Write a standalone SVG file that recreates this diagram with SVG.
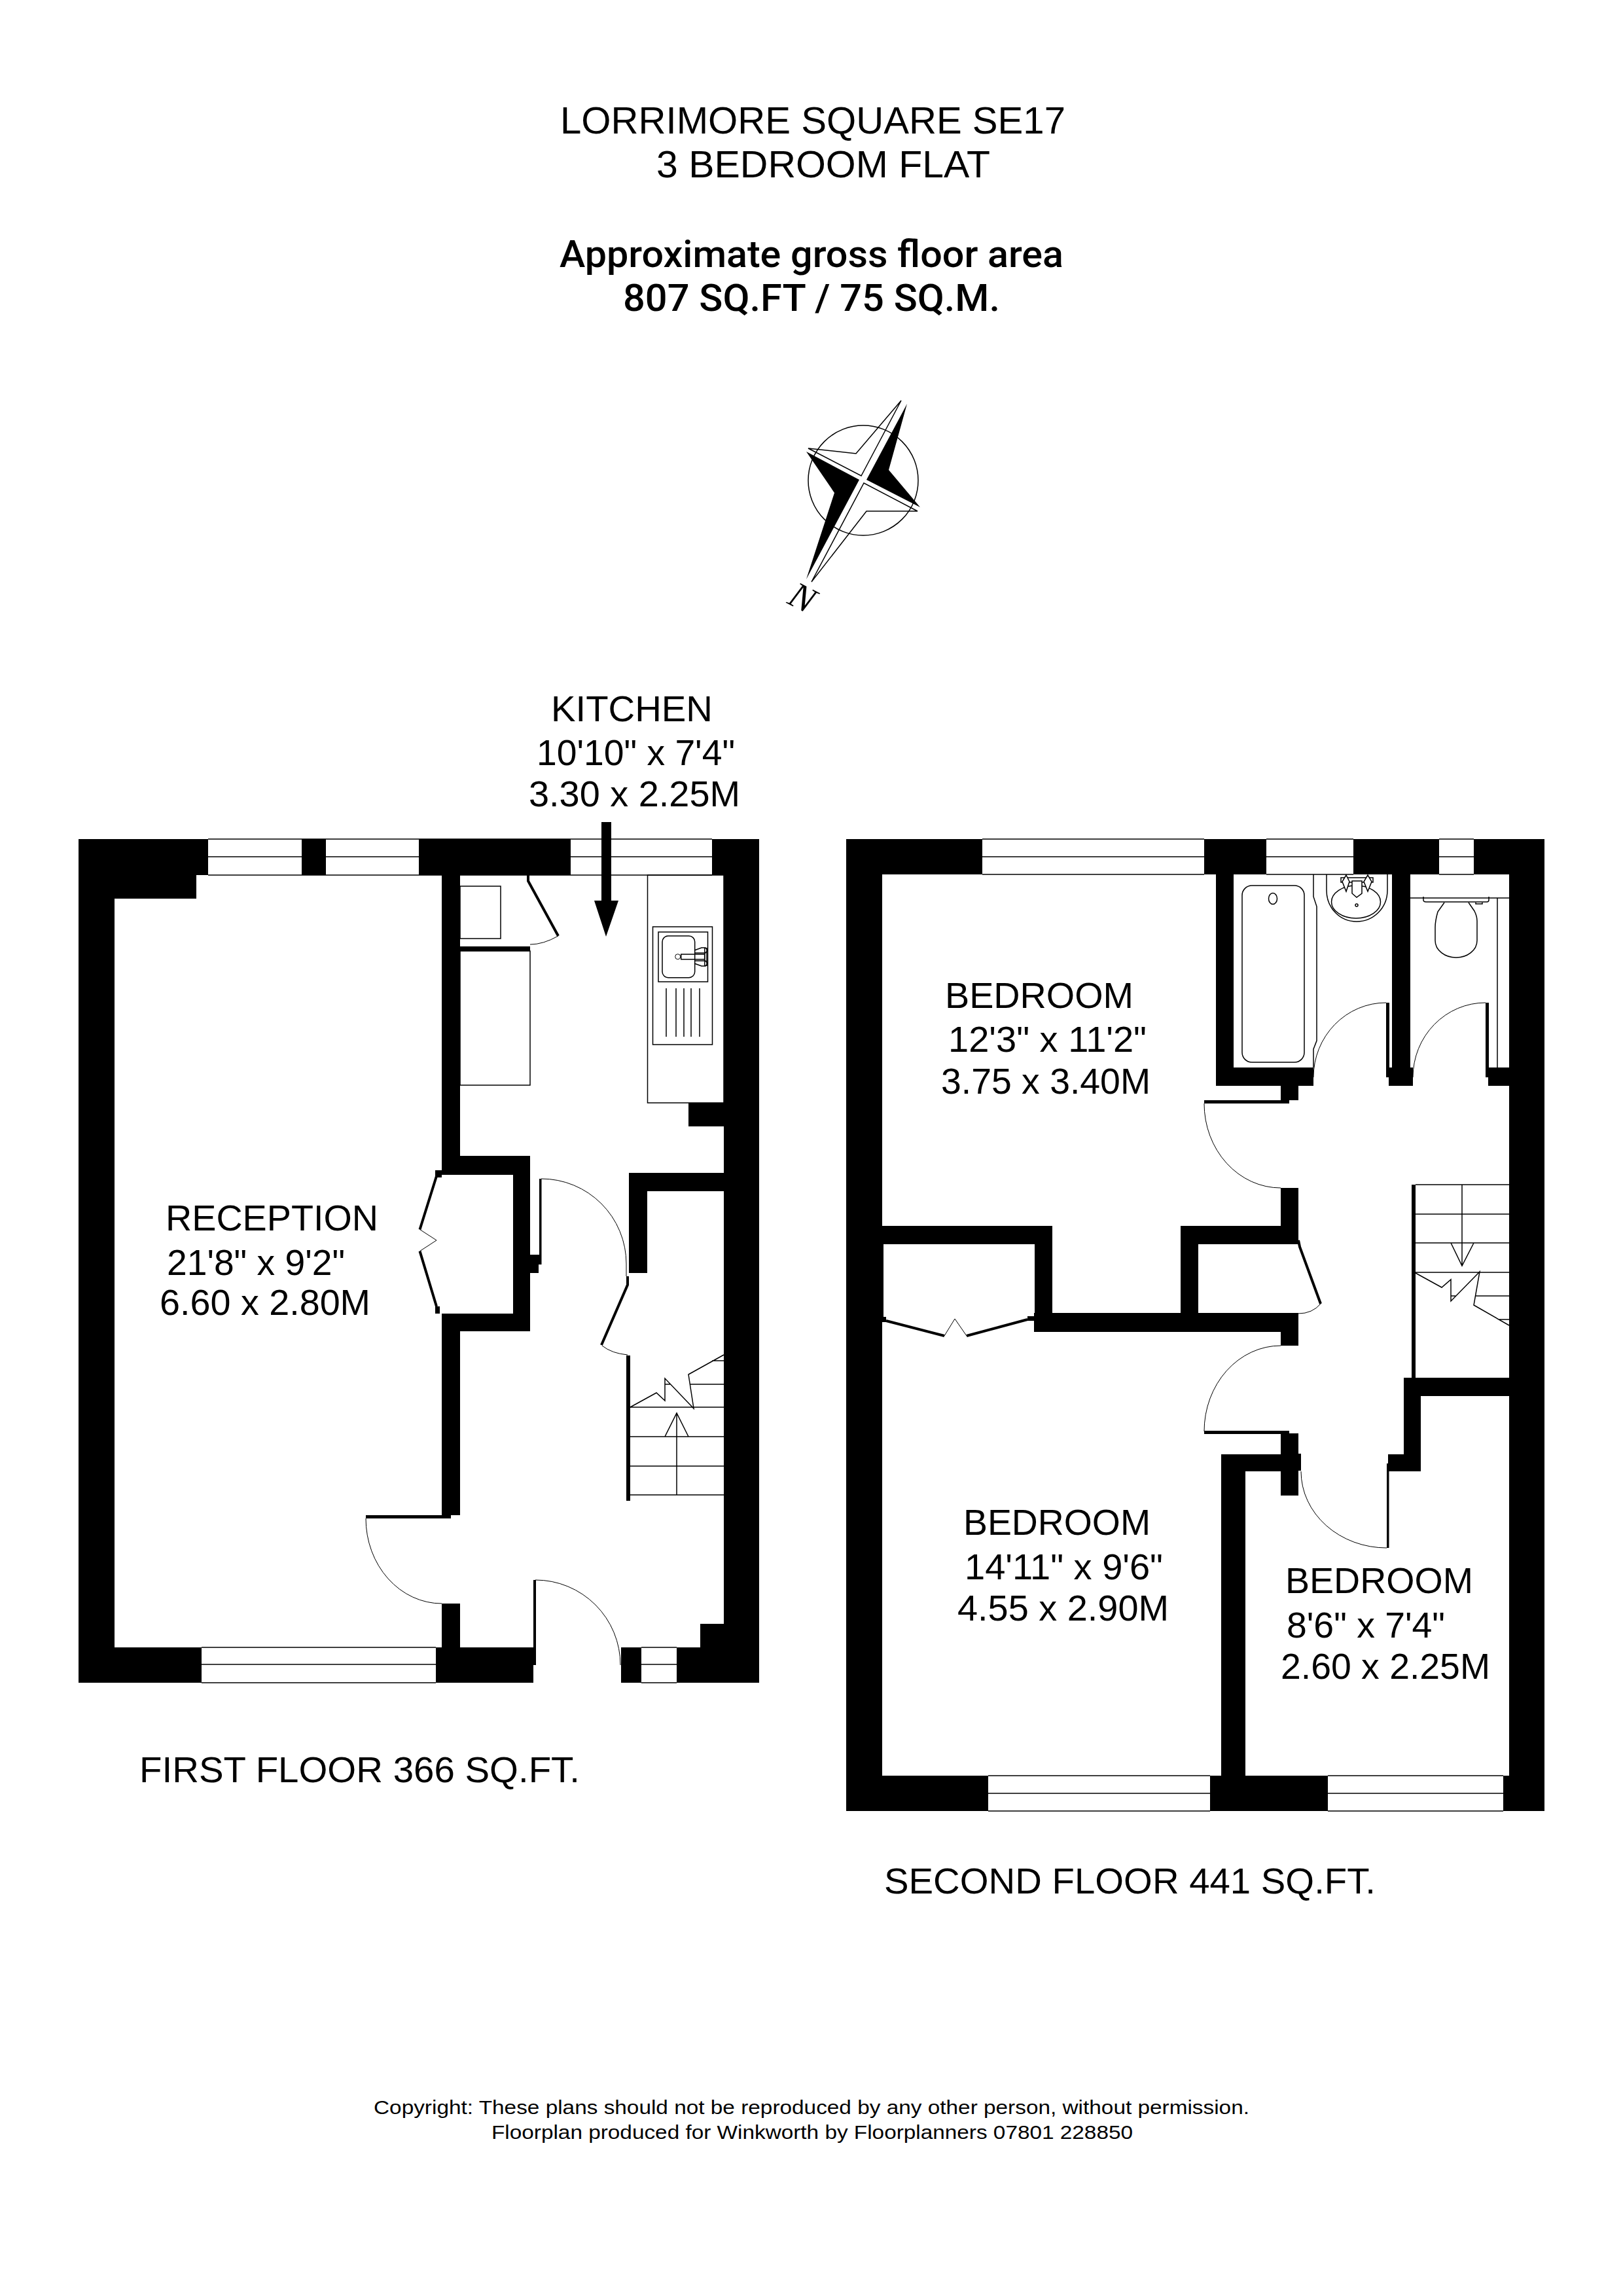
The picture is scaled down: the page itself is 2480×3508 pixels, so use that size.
<svg xmlns="http://www.w3.org/2000/svg" width="2480" height="3508" viewBox="0 0 2480 3508">
<style>
text{font-family:"Liberation Sans",Arial,sans-serif;fill:#000}
.din{font-family:"Roboto","Liberation Sans",sans-serif;font-weight:500}
.t{font-size:58px}.r{font-size:55px}.c{font-size:30px}
.w{fill:#000;stroke:none}
.l{fill:none;stroke:#000;stroke-width:1.5}
.h{fill:none;stroke:#000;stroke-width:1}
.k{fill:none;stroke:#000;stroke-width:4}
.win{fill:#fff;stroke:none}
</style>
<rect width="2480" height="3508" fill="#fff"/>
<g id="title">
<text class="t" x="856" y="204" textLength="772" lengthAdjust="spacingAndGlyphs">LORRIMORE SQUARE SE17</text>
<text class="t" x="1003" y="271" textLength="510" lengthAdjust="spacingAndGlyphs">3 BEDROOM FLAT</text>
<text class="t din" x="855" y="408" textLength="770" lengthAdjust="spacingAndGlyphs">Approximate gross floor area</text>
<text class="t din" x="952" y="475" textLength="576" lengthAdjust="spacingAndGlyphs">807 SQ.FT / 75 SQ.M.</text>
</g>
<g id="compass">
<circle class="l" cx="1319" cy="734" r="84"/>
<path class="l" d="M1377 612L1308 693L1235 685L1316 727Z"/>
<path class="l" d="M1402 781L1324 781L1240 889L1320 738Z"/>
<path class="w" d="M1386 617L1358 718L1406 775L1324 733Z"/>
<path class="w" d="M1232 690L1275 753L1232 885L1313 733Z"/>
<text x="0" y="0" transform="translate(1201 921) rotate(27)" style="font-family:'Liberation Serif',serif;font-style:italic;font-size:56px">N</text>
</g>
<g id="first-floor">
<g id="ff-fixtures">
<path class="l" d="M318 1282H1088M318 1309H461M498 1309H640M872 1309H1088M318 1337H1088"/>
<path class="l" d="M308 2517H666M308 2543H666M308 2571H666M980 2517H1034M980 2543H1034M980 2571H1034"/>
<rect class="l" x="703" y="1354" width="62" height="80"/>
<rect class="l" x="703" y="1453" width="107" height="205"/>
<rect class="l" x="989.5" y="1337" width="116.5" height="348"/>
<rect class="l" x="997.5" y="1416" width="91" height="180" fill="#fff"/>
<rect class="l" x="1006" y="1424" width="75.500" height="76"/>
<rect class="l" x="1012" y="1430" width="49.700" height="63.700" rx="9"/>
<circle class="h" cx="1035.700" cy="1461.700" r="4"/>
<rect class="l" x="1040.700" y="1458" width="36" height="7.700" fill="#fff"/>
<path class="l" d="M1061 1452L1072 1448L1078 1448L1081 1452L1078 1456L1062 1456M1061 1472L1072 1476L1078 1476L1081 1472L1078 1468L1062 1468M1076.700 1448V1476M1080 1448V1476"/>
<path class="l" d="M1018 1510V1584M1033 1510V1584M1045 1510V1584M1056 1510V1584M1069 1510V1584"/>
<path class="k" d="M807 1337V1346L853 1430"/>
<path class="h" d="M853 1430Q830 1443 810 1443"/>
<path class="w" d="M919 1256H934V1376H945L926 1431L908 1376H919Z"/>
<path class="k" d="M667 1797L641.500 1878.500M641.500 1911.600L667 1996"/>
<path class="h" d="M641.500 1878.500L667 1895L641.500 1911.600"/>
<path class="k" d="M959 1950V1963L919 2055"/>
<path class="h" d="M920 2056Q935 2068 959 2070"/>
<path class="h" d="M827 1801A130 130 0 0 1 957 1931V1950"/>
<path class="h" d="M818 2414A130 130 0 0 1 948 2544"/>
<path class="h" d="M559 2320A116 130 0 0 0 675 2450"/>
<path class="l" d="M963 2150H1106M963 2195H1106M963 2240H1106M963 2284H1106M1034 2159V2284M1016 2195L1034 2159L1052 2195"/>
<path class="l" d="M963 2150L1003 2128L1016 2140V2106L1060 2152L1052 2100L1106 2070M1016 2115H1024M1055 2115H1106M1088 2079H1106"/>
</g>
<g id="ff-walls" class="w">
<rect x="120" y="1282" width="198" height="55"/>
<rect x="461" y="1282" width="37" height="55"/>
<rect x="640" y="1282" width="232" height="55"/>
<rect x="1088" y="1282" width="72" height="55"/>
<rect x="120" y="1282" width="55" height="1289"/>
<rect x="120" y="1337" width="180" height="36"/>
<rect x="1106" y="1282" width="54" height="1289"/>
<rect x="120" y="2517" width="188" height="54"/>
<rect x="666" y="2517" width="149" height="54"/>
<rect x="815" y="2414" width="4" height="130"/>
<rect x="949" y="2517" width="31" height="54"/>
<rect x="1034" y="2517" width="126" height="54"/>
<rect x="1070" y="2481" width="36" height="36"/>
<rect x="675" y="1337" width="28" height="458"/>
<rect x="675" y="1766" width="135" height="29"/>
<rect x="665" y="1788" width="10" height="11"/>
<rect x="784" y="1766" width="26" height="268"/>
<rect x="675" y="2007" width="135" height="27"/>
<rect x="665" y="1996" width="7" height="11"/>
<rect x="675" y="2007" width="28" height="308"/>
<rect x="559" y="2315" width="130" height="5"/>
<rect x="675" y="2450" width="28" height="67"/>
<rect x="703" y="1446" width="107" height="7"/>
<rect x="1052" y="1685" width="54" height="36"/>
<rect x="961" y="1792" width="145" height="28"/>
<rect x="961" y="1792" width="28" height="153"/>
<rect x="824" y="1801" width="3.500" height="131"/>
<rect x="810" y="1917" width="17" height="15"/>
<rect x="810" y="1932" width="13" height="13"/>
<rect x="957" y="2071" width="6" height="222"/>
</g>
</g>
<g id="second-floor">
<g id="sf-fixtures">
<path class="l" d="M1501 1282H1840M1501 1309H1840M1501 1336H1840M1935 1282H2068M1935 1309H2068M1935 1336H2068M2199 1282H2252M2199 1309H2252M2199 1336H2252"/>
<path class="l" d="M1510 2713H1849M1510 2740H1849M1510 2767H1849M2029 2713H2297M2029 2740H2297M2029 2767H2297"/>
<rect class="l" x="1898" y="1353" width="95" height="270" rx="15"/>
<ellipse class="l" cx="1945" cy="1373" rx="6.500" ry="8.500"/>
<path class="l" d="M2007 1336V1370L2012 1385V1590L2007 1603V1631"/>
<path class="l" d="M2027 1336V1360C2027 1388 2048 1408 2073 1408C2098 1408 2120 1388 2120 1360V1336"/>
<ellipse class="l" cx="2072" cy="1378" rx="37.500" ry="25"/>
<circle class="l" cx="2073" cy="1383" r="2"/>
<rect class="l" x="2049" y="1341" width="49" height="7" fill="#fff"/>
<path class="l" d="M2057 1337L2051 1347L2057 1362L2062 1347ZM2090 1337L2084 1347L2090 1362L2096 1347Z" style="fill:#fff"/>
<path class="l" d="M2066 1346H2081V1365L2073 1371L2066 1365Z" style="fill:#fff"/>
<path class="l" d="M2155 1372H2306M2288 1372V1631"/>
<path class="l" d="M2175 1370V1375Q2175 1378 2179 1378H2272Q2275 1378 2275 1375V1370"/>
<path class="l" d="M2207 1379L2197 1393C2195 1400 2193 1410 2193 1417V1437C2193 1452 2208 1463 2225 1463C2242 1463 2257 1452 2257 1437V1407C2257 1400 2255 1396 2253 1392L2244 1379"/>
<path class="l" d="M2255 1379V1381H2265V1379"/>
<path class="h" d="M2118 1532A111 114 0 0 0 2007 1646"/>
<path class="h" d="M2270 1532A111 114 0 0 0 2159 1646"/>
<path class="h" d="M1840 1686A117 129 0 0 0 1957 1815"/>
<path class="h" d="M1957 2056A117 131 0 0 0 1840 2187"/>
<path class="h" d="M1988 2248A131 117 0 0 0 2119 2365"/>
<path class="k" d="M1984 1895L1986 1905L2018 1992"/>
<path class="h" d="M2018 1992Q2005 2007 1984 2007"/>
<path class="k" d="M1354 2018L1443 2041M1477 2041L1570 2016"/>
<path class="h" d="M1443 2041L1459 2015L1477 2041"/>
<path class="l" d="M2163 1810H2306M2163 1855H2306M2163 1899H2306M2163 1944H2306M2234 1810V1934M2217 1899L2234 1934L2252 1899"/>
<path class="l" d="M2163 1945L2203 1967L2217 1955V1988L2261 1943L2252 1994L2306 2025M2217 1980H2224M2254 1980H2306M2291 2016H2306"/>
</g>
<g id="sf-walls" class="w">
<rect x="1293" y="1282" width="208" height="54"/>
<rect x="1840" y="1282" width="95" height="54"/>
<rect x="2068" y="1282" width="131" height="54"/>
<rect x="2252" y="1282" width="108" height="54"/>
<rect x="1293" y="1282" width="55" height="1485"/>
<rect x="2306" y="1282" width="54" height="1485"/>
<rect x="1293" y="2713" width="217" height="54"/>
<rect x="1849" y="2713" width="180" height="54"/>
<rect x="2297" y="2713" width="63" height="54"/>
<rect x="1858" y="1336" width="27" height="323"/>
<rect x="1858" y="1631" width="149" height="28"/>
<rect x="1957" y="1659" width="27" height="22"/>
<rect x="1840" y="1681" width="130" height="5"/>
<rect x="2127" y="1336" width="28" height="295"/>
<rect x="2122" y="1631" width="37" height="28"/>
<rect x="2118" y="1532" width="5" height="114"/>
<rect x="2270" y="1532" width="5" height="114"/>
<rect x="2274" y="1631" width="32" height="28"/>
<rect x="1957" y="1815" width="27" height="86"/>
<rect x="1804" y="1873" width="180" height="28"/>
<rect x="1348" y="1873" width="260" height="28"/>
<rect x="1581" y="1873" width="27" height="162"/>
<rect x="1804" y="1873" width="27" height="162"/>
<rect x="1580" y="2006" width="404" height="29"/>
<rect x="1957" y="2006" width="27" height="50"/>
<rect x="1570" y="2011" width="10" height="7"/>
<rect x="1348" y="1901" width="2" height="119"/>
<rect x="1350" y="2012" width="4" height="8"/>
<rect x="1840" y="2186" width="130" height="5"/>
<rect x="1957" y="2190" width="27" height="95"/>
<rect x="1984" y="2221" width="4" height="26"/>
<rect x="1866" y="2222" width="94" height="26"/>
<rect x="1866" y="2222" width="37" height="545"/>
<rect x="2145" y="2105" width="26" height="143"/>
<rect x="2121" y="2222" width="50" height="26"/>
<rect x="2145" y="2105" width="161" height="28"/>
<rect x="2119" y="2236" width="3.500" height="129"/>
<rect x="2157" y="1810" width="6" height="295"/>
</g>
</g>
<g id="labels">
<text class="r" x="253" y="1880" textLength="325" lengthAdjust="spacingAndGlyphs">RECEPTION</text>
<text class="r" x="255" y="1948" textLength="272" lengthAdjust="spacingAndGlyphs">21'8" x 9'2"</text>
<text class="r" x="244" y="2009" textLength="322" lengthAdjust="spacingAndGlyphs">6.60 x 2.80M</text>
<text class="r" x="842" y="1102" textLength="247" lengthAdjust="spacingAndGlyphs">KITCHEN</text>
<text class="r" x="820" y="1169" textLength="303" lengthAdjust="spacingAndGlyphs">10'10" x 7'4"</text>
<text class="r" x="808" y="1232" textLength="323" lengthAdjust="spacingAndGlyphs">3.30 x 2.25M</text>
<text class="r" x="1444" y="1540" textLength="288" lengthAdjust="spacingAndGlyphs">BEDROOM</text>
<text class="r" x="1449" y="1607" textLength="303" lengthAdjust="spacingAndGlyphs">12'3" x 11'2"</text>
<text class="r" x="1438" y="1671" textLength="320" lengthAdjust="spacingAndGlyphs">3.75 x 3.40M</text>
<text class="r" x="1472" y="2345" textLength="286" lengthAdjust="spacingAndGlyphs">BEDROOM</text>
<text class="r" x="1474" y="2413" textLength="303" lengthAdjust="spacingAndGlyphs">14'11" x 9'6"</text>
<text class="r" x="1463" y="2476" textLength="323" lengthAdjust="spacingAndGlyphs">4.55 x 2.90M</text>
<text class="r" x="1964" y="2434" textLength="287" lengthAdjust="spacingAndGlyphs">BEDROOM</text>
<text class="r" x="1966" y="2502" textLength="242" lengthAdjust="spacingAndGlyphs">8'6" x 7'4"</text>
<text class="r" x="1957" y="2565" textLength="320" lengthAdjust="spacingAndGlyphs">2.60 x 2.25M</text>
<text class="r" x="213" y="2723" textLength="673" lengthAdjust="spacingAndGlyphs">FIRST FLOOR 366 SQ.FT.</text>
<text class="r" x="1351" y="2893" textLength="751" lengthAdjust="spacingAndGlyphs">SECOND FLOOR 441 SQ.FT.</text>
<text class="c" x="571" y="3230" textLength="1338" lengthAdjust="spacingAndGlyphs">Copyright: These plans should not be reproduced by any other person, without permission.</text>
<text class="c" x="751" y="3268" textLength="980" lengthAdjust="spacingAndGlyphs">Floorplan produced for Winkworth by Floorplanners 07801 228850</text>
</g>
</svg>
